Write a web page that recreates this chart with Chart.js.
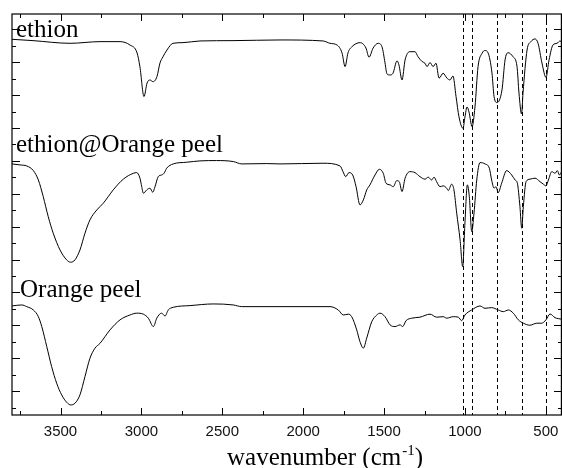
<!DOCTYPE html>
<html>
<head>
<meta charset="utf-8">
<script src="https://cdn.jsdelivr.net/npm/chart.js@4.4.1/dist/chart.umd.min.js"></script>
<style>
  html, body { margin: 0; padding: 0; background: #fff; }
  #wrap { width: 562px; height: 468px; position: relative; }
</style>
</head>
<body>
<div id="wrap"><canvas id="ftir"></canvas></div>
<script>
// wavenumbers (cm-1) and offset transmittance (a.u.)
const ethionWn = [3800,3670,3441,3256,3132,3071,3027,3009,2984,2965,2947,2928,2904,2885,2867,2842,2805,2743,2638,2434,2143,1877,1834,1791,1760,1741,1723,1698,1649,1612,1593,1568,1537,1513,1494,1482,1463,1445,1420,1408,1389,1370,1340,1309,1290,1265,1247,1234,1216,1197,1179,1160,1135,1111,1092,1074,1055,1037,1012,1000,987,975,956,938,919,894,876,857,833,820,802,771,752,734,703,678,666,650,641,616,592,567,548,524,499,480,456,431,412,400];
const ethionT = [21.99,21.91,21.75,21.85,21.85,21.65,21.18,20.34,18.57,19.38,19.56,19.46,19.76,20.58,20.94,21.35,21.75,21.79,21.89,21.91,21.95,21.89,21.75,21.65,21.18,20.36,21.18,21.55,21.79,21.47,20.92,21.46,21.75,21.55,20.58,19.92,19.86,19.96,20.70,20.46,19.56,20.76,21.25,21.25,20.95,20.66,20.56,20.36,20.60,20.36,20.56,19.67,19.96,19.67,19.56,19.80,18.57,17.37,16.68,17.35,17.95,17.65,16.78,17.95,20.36,21.16,21.32,21.18,19.98,18.57,18.21,18.97,20.76,21.19,20.95,20.36,18.79,17.53,18.79,21.35,21.85,22.01,21.75,20.58,19.72,20.76,21.65,21.75,21.89,21.83];

const loadedWn = [3800,3751,3709,3668,3637,3607,3576,3545,3503,3462,3437,3411,3380,3349,3318,3276,3236,3174,3112,3050,3029,3009,2998,2988,2967,2947,2930,2916,2896,2875,2860,2844,2803,2720,2638,2535,2432,2380,2225,2143,1877,1772,1754,1737,1717,1694,1673,1649,1628,1607,1587,1556,1529,1505,1488,1463,1443,1422,1406,1389,1370,1340,1309,1278,1247,1227,1206,1191,1175,1154,1134,1113,1103,1082,1068,1051,1030,1014,1000,985,973,958,944,927,907,876,849,835,820,808,794,773,742,711,690,676,660,649,639,622,598,567,536,515,499,484,463,443,429,416,402];
const loadedT = [14.55,14.49,14.43,14.15,13.59,12.60,11.40,10.41,9.41,8.82,8.68,8.82,9.41,10.41,11.21,11.80,12.20,13.00,13.64,13.99,14.03,13.70,13.19,12.80,13.00,13.10,12.86,13.19,13.79,13.89,13.99,14.29,14.55,14.65,14.73,14.75,14.69,14.55,14.57,14.55,14.59,14.43,14.09,13.79,14.03,13.89,13.19,12.10,12.40,13.00,13.30,13.89,14.23,13.99,13.40,13.30,13.19,13.55,13.49,12.90,13.70,14.09,14.03,13.79,13.64,13.76,13.59,13.76,13.49,13.19,13.24,13.10,12.96,13.34,13.00,11.61,10.01,8.42,11.03,13.30,12.60,10.51,11.61,13.59,14.63,14.55,14.29,13.59,13.10,13.19,12.84,13.40,14.15,13.89,13.59,13.40,12.00,10.71,12.00,13.49,13.64,13.70,13.49,13.34,13.24,13.59,14.09,13.99,14.15,13.89,14.09];

const peelWn = [3800,3740,3709,3668,3637,3616,3585,3555,3524,3493,3462,3437,3411,3380,3349,3318,3287,3256,3194,3132,3071,3029,2988,2957,2926,2905,2875,2854,2834,2803,2700,2556,2432,2380,2143,1834,1783,1752,1721,1700,1669,1649,1628,1607,1576,1545,1525,1494,1463,1432,1401,1385,1364,1329,1278,1216,1175,1134,1113,1072,1041,1020,1000,958,907,876,835,794,763,732,701,670,639,598,556,526,499,474,443,402];
const peelT = [6.07,6.13,6.03,5.83,5.43,4.84,3.64,2.45,1.46,0.76,0.32,0.16,0.26,0.76,1.85,2.95,3.55,3.84,4.64,5.24,5.53,5.64,5.58,5.34,4.84,5.34,5.64,5.47,5.83,5.99,6.09,6.19,6.13,6.03,6.03,6.03,5.83,5.53,5.58,5.43,4.64,3.94,3.55,4.16,5.13,5.53,5.64,5.43,4.94,4.84,4.94,4.84,5.19,5.34,5.40,5.58,5.40,5.43,5.34,5.43,5.40,5.19,5.53,5.83,6.07,5.93,5.97,5.83,5.73,5.83,5.64,5.24,5.04,4.92,5.04,5.04,5.24,5.59,5.37,5.28];

const seriesNames = ["ethion", "ethion@Orange peel", "Orange peel"];
const xTickValues = [3500, 3000, 2500, 2000, 1500, 1000, 500];
const dashedWn = [1014, 958, 804, 649, 499];

const yTickStep = 0.982;
const yTickCount = 24;

const toPoints = (wn, t) => wn.map((w, i) => ({ x: w, y: t[i] }));

// frame, inward ticks, dashed markers, curve names and axis title
const decorations = {
  id: "decorations",
  afterDraw(chart) {
    const { ctx, chartArea: a, scales } = chart;
    const xs = scales.x, ys = scales.y;
    ctx.save();
    ctx.strokeStyle = "#000";

    ctx.setLineDash([4, 3]);
    ctx.lineWidth = 1;
    dashedWn.forEach((w) => {
      const px = Math.round(xs.getPixelForValue(w)) + 0.5;
      ctx.beginPath();
      ctx.moveTo(px, a.top);
      ctx.lineTo(px, a.bottom);
      ctx.stroke();
    });
    ctx.setLineDash([]);

    ctx.lineWidth = 1.2;
    ctx.strokeRect(a.left, a.top, a.right - a.left - 0.6, a.bottom - a.top);

    ctx.lineWidth = 1;
    for (let w = 500; w <= 3750; w += 250) {
      const px = Math.round(xs.getPixelForValue(w)) + 0.5;
      const len = w % 500 === 0 ? 7 : 4;
      ctx.beginPath();
      ctx.moveTo(px, a.bottom);
      ctx.lineTo(px, a.bottom - len);
      ctx.moveTo(px, a.top);
      ctx.lineTo(px, a.top + len);
      ctx.stroke();
    }
    for (let k = 0; k < yTickCount; k++) {
      const py = Math.round(ys.getPixelForValue(k * yTickStep)) + 0.5;
      const len = k % 2 === 1 ? 8 : 4;
      ctx.beginPath();
      ctx.moveTo(a.left, py);
      ctx.lineTo(a.left + len, py);
      ctx.moveTo(a.right, py);
      ctx.lineTo(a.right - len, py);
      ctx.stroke();
    }

    ctx.fillStyle = "#000";
    ctx.textBaseline = "alphabetic";
    ctx.textAlign = "left";
    ctx.font = "25px 'Liberation Serif', 'Times New Roman', serif";
    ctx.fillText(seriesNames[0], a.left + 4, 37);
    ctx.fillText(seriesNames[1], a.left + 4, 152);
    ctx.fillText(seriesNames[2], a.left + 8, 297);

    // x axis title with superscript
    const base = 465;
    let tx = 227;
    const t1 = "wavenumber (cm";
    ctx.fillText(t1, tx, base);
    tx += ctx.measureText(t1).width;
    ctx.font = "15px 'Liberation Serif', 'Times New Roman', serif";
    ctx.fillText("-1", tx + 1, base - 10);
    tx += ctx.measureText("-1").width + 1;
    ctx.font = "25px 'Liberation Serif', 'Times New Roman', serif";
    ctx.fillText(")", tx, base);
    ctx.restore();
  },
};

const lineStyle = {
  borderColor: "#000",
  borderWidth: 1,
  pointRadius: 0,
  fill: false,
  cubicInterpolationMode: "monotone",
};

new Chart(document.getElementById("ftir"), {
  type: "line",
  data: {
    datasets: [
      { label: seriesNames[0], data: toPoints(ethionWn, ethionT), ...lineStyle },
      { label: seriesNames[1], data: toPoints(loadedWn, loadedT), ...lineStyle },
      { label: seriesNames[2], data: toPoints(peelWn, peelT), ...lineStyle },
    ],
  },
  options: {
    responsive: true,
    maintainAspectRatio: false,
    animation: false,
    layout: { autoPadding: false, padding: { top: 14, left: 12, right: 0, bottom: 0 } },
    plugins: { legend: { display: false }, tooltip: { enabled: false } },
    scales: {
      x: {
        type: "linear",
        reverse: true,
        min: 400,
        max: 3800,
        grid: { display: false, drawTicks: false },
        border: { display: false },
        afterBuildTicks: (s) => {
          s.ticks = xTickValues.map((v) => ({ value: v }));
        },
        afterFit: (s) => {
          s.height = 53;
          s.paddingLeft = 0;
          s.paddingRight = 0;
        },
        ticks: {
          autoSkip: false,
          maxRotation: 0,
          padding: 8,
          color: "#111",
          font: { family: "'Liberation Sans', Arial, sans-serif", size: 15 },
          callback: (v) => String(v),
        },
      },
      y: {
        type: "linear",
        display: false,
        min: -0.44,
        max: 23.5,
      },
    },
  },
  plugins: [decorations],
});
</script>
</body>
</html>
